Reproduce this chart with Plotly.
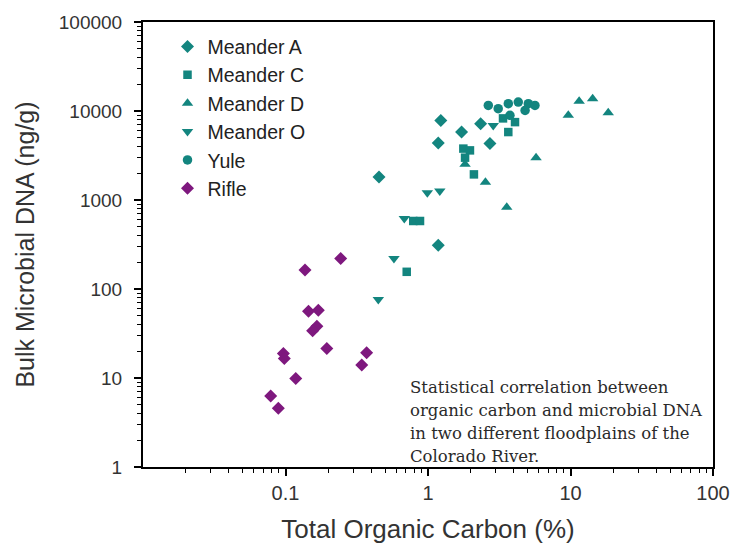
import plotly.graph_objects as go

# ---- data ----
meanderA_x = [0.453, 1.18, 1.23, 1.18, 1.72, 2.34, 2.72]
meanderA_y = [1810, 310, 7840, 4360, 5800, 7200, 4300]

meanderC_x = [0.709, 0.788, 0.879, 2.10, 1.77, 1.97, 1.82, 4.08, 3.66, 3.36]
meanderC_y = [156, 581, 581, 1940, 3780, 3610, 2990, 7500, 5800, 8260]

meanderD_x = [1.82, 2.53, 3.57, 5.73, 9.65, 11.5, 14.3, 18.4]
meanderD_y = [2520, 1580, 828, 2990, 8930, 12900, 13700, 9570]

meanderO_x = [0.577, 0.448, 0.682, 0.989, 1.21, 2.87]
meanderO_y = [220, 76, 618, 1210, 1260, 6890]

yule_x = [2.65, 3.11, 3.66, 4.30, 5.06, 5.63, 3.76, 4.80]
yule_y = [11560, 10610, 12080, 12590, 12080, 11560, 8930, 10160]

rifle_x = [0.244, 0.137, 0.145, 0.170, 0.166, 0.155, 0.195, 0.0966, 0.0981,
           0.371, 0.343, 0.118, 0.0787, 0.089]
rifle_y = [220, 163, 56.3, 57.8, 38.2, 33.9, 21.5, 18.9, 16.6,
           19.2, 14.0, 9.9, 6.26, 4.56]

x_tickvals = [0.1, 1, 10, 100]
x_ticktext = ["0.1", "1", "10", "100"]
y_tickvals = [1, 10, 100, 1000, 10000, 100000]
y_ticktext = ["1", "10", "100", "1000", "10000", "100000"]

note_lines = [
    "Statistical correlation between",
    "organic carbon and microbial DNA",
    "in two different floodplains of the",
    "Colorado River.",
]

TEAL = "#13857f"
PURPLE = "#7e187e"

series = [
    ("Meander A", meanderA_x, meanderA_y, "diamond", TEAL, 10),
    ("Meander C", meanderC_x, meanderC_y, "square", TEAL, 8.5),
    ("Meander D", meanderD_x, meanderD_y, "triangle-up", TEAL, 10),
    ("Meander O", meanderO_x, meanderO_y, "triangle-down", TEAL, 10),
    ("Yule", yule_x, yule_y, "circle", TEAL, 9.5),
    ("Rifle", rifle_x, rifle_y, "diamond", PURPLE, 10),
]

fig = go.Figure()
for name, xs, ys, sym, col, sz in series:
    fig.add_trace(go.Scatter(
        x=xs, y=ys, mode="markers", name=name,
        marker=dict(symbol=sym, color=col, size=sz, line=dict(width=0)),
    ))

x_minor = [m * 10 ** e for e in range(-2, 2) for m in range(2, 10)]
y_minor = [m * 10 ** e for e in range(0, 5) for m in range(2, 10)]

FONT = "Liberation Sans, Arial, sans-serif"

fig.update_xaxes(
    type="log", range=[-2, 2],
    tickvals=x_tickvals, ticktext=x_ticktext,
    ticks="outside", ticklen=7, tickwidth=1.5, tickcolor="black",
    minor=dict(tickvals=x_minor, ticks="outside", ticklen=4, tickwidth=1, tickcolor="black"),
    showline=True, linecolor="black", linewidth=2, mirror=True,
    showgrid=False, zeroline=False,
    tickfont=dict(family=FONT, size=20, color="#333333"),
    title=dict(text="Total Organic Carbon (%)", font=dict(family=FONT, size=26, color="#333333"), standoff=17),
    automargin=False,
)
fig.update_yaxes(
    type="log", range=[0, 5],
    tickvals=y_tickvals, ticktext=y_ticktext,
    ticks="outside", ticklen=7, tickwidth=1.5, tickcolor="black",
    minor=dict(tickvals=y_minor, ticks="outside", ticklen=4, tickwidth=1, tickcolor="black"),
    showline=True, linecolor="black", linewidth=2, mirror=True,
    showgrid=False, zeroline=False,
    tickfont=dict(family=FONT, size=19, color="#333333"),
    ticklabelstandoff=8,
    title=dict(text="Bulk Microbial DNA (ng/g)", font=dict(family=FONT, size=25, color="#333333"), standoff=17),
    automargin=False,
)

line_y = [388, 411, 434, 457]  # pixel rows of note lines
plot_top, plot_bot = 21.5, 467.5
for txt, py in zip(note_lines, line_y):
    fig.add_annotation(
        text=txt, xref="paper", yref="paper",
        x=(408 - 143) / (713 - 143), y=(plot_bot - py) / (plot_bot - plot_top),
        xanchor="left", yanchor="middle", showarrow=False, align="left",
        font=dict(family="DejaVu Serif, serif", size=16.5, color="#2a2a2a"),
    )

fig.update_layout(
    width=732, height=546,
    margin=dict(l=143, r=19, t=21.5, b=78.5, pad=0),
    paper_bgcolor="white", plot_bgcolor="white",
    showlegend=True,
    legend=dict(
        x=0.043, y=0.988, xanchor="left", yanchor="top",
        font=dict(family=FONT, size=19.5, color="#222222"),
        bgcolor="rgba(255,255,255,0)", tracegroupgap=0,
        itemwidth=30,
    ),
)

fig.write_html("out.html")
